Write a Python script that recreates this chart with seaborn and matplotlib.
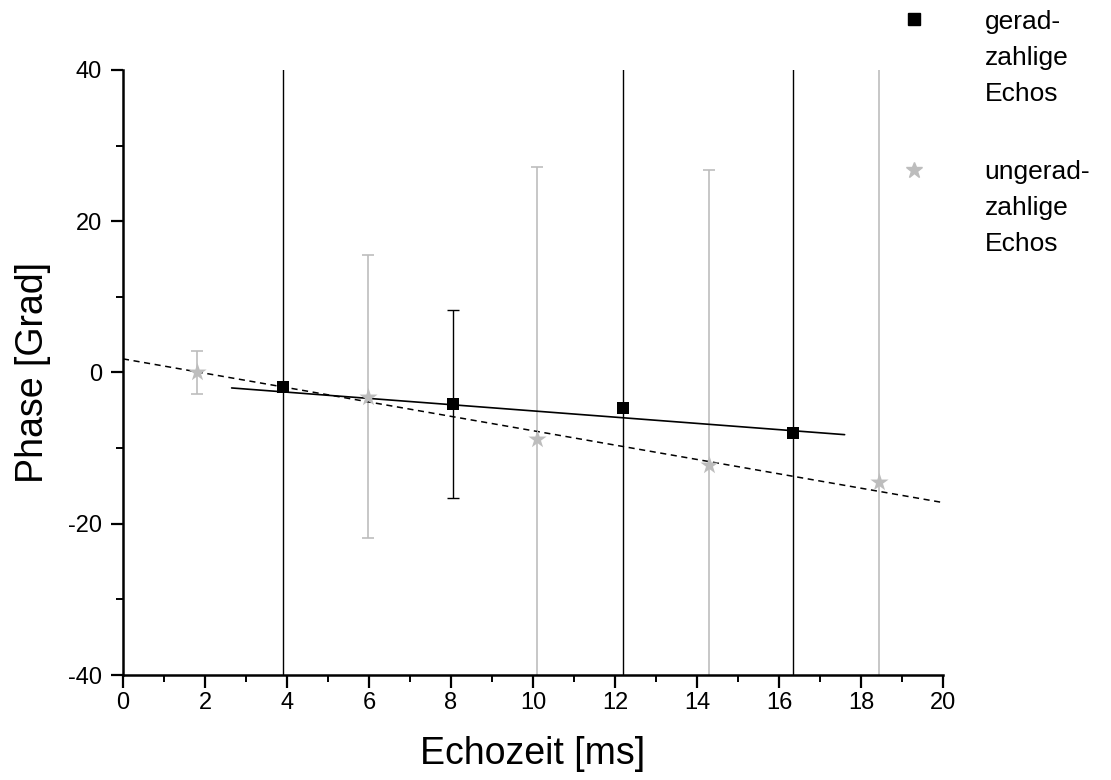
import matplotlib
import numpy as np
import pandas as pd

matplotlib.use("Agg")
import matplotlib.pyplot as plt
import seaborn as sns
from matplotlib.lines import Line2D
from matplotlib.ticker import MultipleLocator

# even echoes (black squares)
even_time = [3.9, 8.05, 12.2, 16.35]
even_phase = [-1.9, -4.2, -4.7, -8.0]
even_err = [60.0, 12.4, 60.0, 60.0]

# odd echoes (grey stars)
odd_time = [1.8, 5.97, 10.1, 14.3, 18.45]
odd_phase = [0.0, -3.2, -8.8, -12.2, -14.5]
odd_err = [2.8, 18.7, 36.0, 39.0, 60.0]

# linear fits
even_fit = (-0.413, -0.95)   # slope, intercept
even_fit_range = (2.65, 17.6)
odd_fit = (-0.95, 1.8)
odd_fit_range = (0.0, 20.0)

even = pd.DataFrame({"t": even_time, "phase": even_phase, "err": even_err})
odd = pd.DataFrame({"t": odd_time, "phase": odd_phase, "err": odd_err})

sns.set_theme(style="ticks")
plt.rcParams["font.family"] = ["Liberation Sans", "DejaVu Sans"]
plt.rcParams["axes.unicode_minus"] = False
plt.rcParams["text.color"] = "black"
plt.rcParams["axes.labelcolor"] = "black"

grey = "#bdbdbd"

fig = plt.figure(figsize=(11.11, 7.8), dpi=100)
ax = fig.add_axes([0.1107, 0.1346, 0.7381, 0.7757])

ax.errorbar(odd["t"], odd["phase"], yerr=odd["err"], fmt="none",
            ecolor=grey, elinewidth=1.2, capsize=4.5, capthick=1.2, zorder=1)
ax.errorbar(even["t"], even["phase"], yerr=even["err"], fmt="none",
            ecolor="black", elinewidth=1.0, capsize=4.5, capthick=1.0, zorder=1)

xs = np.linspace(*even_fit_range, 2)
ax.plot(xs, even_fit[0] * xs + even_fit[1], color="black", lw=1.2, zorder=2)
xs = np.linspace(*odd_fit_range, 2)
ax.plot(xs, odd_fit[0] * xs + odd_fit[1], color="black", lw=1.1,
        ls=(0, (4, 3)), zorder=2)

sns.scatterplot(data=odd, x="t", y="phase", marker="*", s=190, color=grey,
                edgecolor=grey, linewidth=0, ax=ax, zorder=3)
sns.scatterplot(data=even, x="t", y="phase", marker="s", s=68, color="black",
                edgecolor="black", linewidth=0, ax=ax, zorder=3)

ax.set_xlim(0, 20)
ax.set_ylim(-40, 40)
ax.xaxis.set_major_locator(MultipleLocator(2))
ax.xaxis.set_minor_locator(MultipleLocator(1))
ax.yaxis.set_major_locator(MultipleLocator(20))
ax.yaxis.set_minor_locator(MultipleLocator(10))
ax.tick_params(which="major", length=9, width=1.6, labelsize=17, direction="out",
               color="black", labelcolor="black", pad=6)
ax.tick_params(axis="x", which="major", pad=3)
ax.tick_params(which="minor", length=5, width=1.4, direction="out", color="black")
for side in ["left", "bottom"]:
    ax.spines[side].set_linewidth(1.8)
    ax.spines[side].set_color("black")
for side in ["top", "right"]:
    ax.spines[side].set_visible(False)

ax.set_xlabel("Echozeit [ms]", fontsize=27, labelpad=16)
ax.set_ylabel("Phase [Grad]", fontsize=27, labelpad=12)

blank = Line2D([], [], linestyle="none", marker=None)
handles = [
    Line2D([], [], linestyle="none", marker="s", color="black", markersize=8.5),
    blank, blank, blank,
    Line2D([], [], linestyle="none", marker="*", color=grey, markersize=12),
    blank, blank,
]
labels = ["gerad-", "zahlige", "Echos", " ", "ungerad-", "zahlige", "Echos"]
leg = fig.legend(handles, labels, loc="upper left", bbox_to_anchor=(0.797, 1.008),
                 frameon=False, fontsize=19, handletextpad=2.15, labelspacing=0.46,
                 handlelength=1.0, borderaxespad=0.2)
leg.get_texts()[3].set_fontsize(23)

fig.savefig("out.png", dpi=100)
